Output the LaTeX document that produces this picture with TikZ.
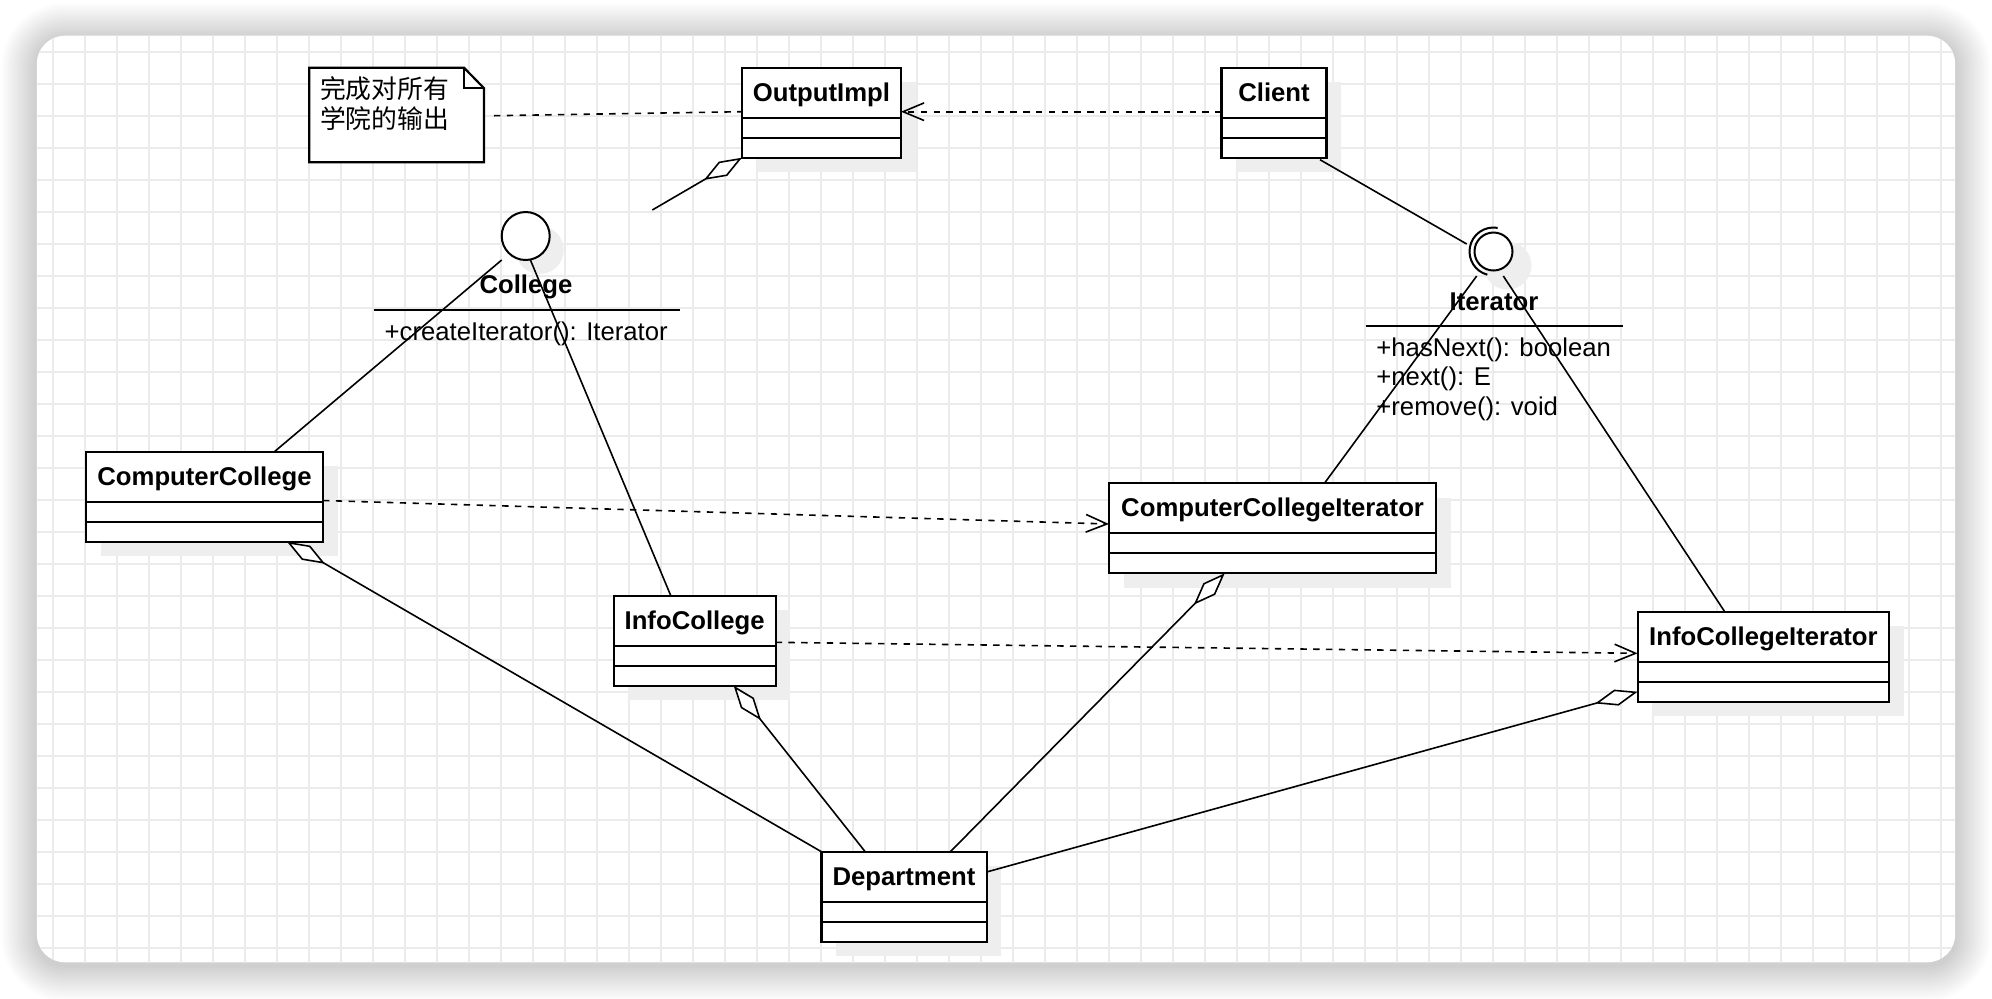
\documentclass[tikz,border=0pt]{standalone}
\usepackage{fontspec}
\setmainfont{Liberation Sans}
\newfontfamily\cjkfont{Noto Sans CJK SC}
\usetikzlibrary{arrows.meta,calc}
\definecolor{gridc}{HTML}{EBEBEB}
\definecolor{shadowc}{HTML}{EEEEEE}

\newcommand\umlclass[5]{%
  \fill[shadowc] (#2+14.5,#3+14.5) rectangle ++(#4,90);
  \node[classbox, minimum width=#4*0.5pt] (#1) at (#2,#3) {};
  \draw[divider] ($(#1.north west)+(0,50)$) -- ($(#1.north east)+(0,50)$);
  \draw[divider] ($(#1.north west)+(0,70)$) -- ($(#1.north east)+(0,70)$);
  \node[classtitle] (#1-t) at ($(#1.north)+(0,33.5)$) {#5};
}

\begin{document}
\begin{tikzpicture}[x=0.5pt,y=-0.5pt,
  every node/.style={font=\fontsize{12.85}{15}\selectfont},
  classbox/.style={draw=black, line width=1.1pt, fill=white, minimum height=45pt, inner sep=0pt, outer sep=0pt, anchor=north west},
  divider/.style={draw=black, line width=1.1pt},
  classtitle/.style={font=\fontsize{12.85}{15}\selectfont\bfseries, inner sep=0pt, anchor=base},
  optext/.style={inner sep=0pt, anchor=base west},
  cjktext/.style={inner sep=0pt, anchor=base west, font=\cjkfont\fontsize{12.9}{15}\selectfont},
  conn/.style={draw=black, line width=0.8pt},
  depend/.style={conn, dash pattern=on 3.2pt off 3.2pt, -{Straight Barb[length=10.5pt,width=8.8pt]}},
  notelink/.style={conn, dash pattern=on 3.2pt off 3.2pt},
  aggreg/.style={conn, -{Diamond[fill=white,length=22pt,width=8.3pt]}},
  ifacecircle/.style={circle, draw=black, line width=1pt, fill=white, inner sep=0pt, outer sep=0pt},
]
\useasboundingbox (0,0) rectangle (1992,998);
\fill[white] (0,0) rectangle (1992,998);

% card shadow
\foreach \i in {1,...,16}{
  \pgfmathsetmacro\rr{14+\i*1.1}
  \fill[black, opacity=0.011, rounded corners=\rr pt] (36.8-\i*2.2, 35.7-\i*2.2+3) rectangle (1955.2+\i*2.2, 962.3+\i*2.2+3);
}
% card
\fill[white, rounded corners=14pt] (36.8,35.7) rectangle (1955.2,962.3);
\begin{scope}
  \clip[rounded corners=14pt] (36.8,35.7) rectangle (1955.2,962.3);
  \foreach \x in {53,85,...,1941} \draw[gridc, line width=0.65pt] (\x,30) -- (\x,970);
  \foreach \y in {52,84,...,948} \draw[gridc, line width=0.65pt] (30,\y) -- (1960,\y);
\end{scope}

% note
\node[inner sep=0pt, outer sep=0pt, minimum width=87.35pt, minimum height=47.3pt, anchor=north west] (note) at (309.3,67.7) {};
\draw[line width=1.1pt, fill=white] (note.north west) -- ($(note.north east)+(-20,0)$) -- ($(note.north east)+(0,20.5)$) -- (note.south east) -- (note.south west) -- cycle;
\draw[line width=1.1pt] ($(note.north east)+(-20,0)$) -- ($(note.north east)+(-20,20.5)$) -- ($(note.north east)+(0,20.5)$);
\node[cjktext] (note-l1) at (319.6,98.5) {完成对所有};
\node[cjktext] (note-l2) at (319.6,128) {学院的输出};

% classes
\umlclass{oi}{742}{67.7}{159}{OutputImpl}
\umlclass{cl}{1221.5}{67.7}{105}{Client}
\umlclass{cc}{86}{451.7}{237}{ComputerCollege}
\umlclass{ic}{613.6}{595.7}{162}{InfoCollege}
\umlclass{dp}{821.4}{851.7}{165.2}{Department}
\umlclass{cci}{1109}{483.3}{327.2}{ComputerCollegeIterator}
\umlclass{ici}{1637.6}{611.7}{251.6}{InfoCollegeIterator}

% College interface
\fill[shadowc] (525.7+14,236+14) circle[radius=24];
\node[ifacecircle, minimum size=24pt] (col) at (525.7,236) {};
\node[classtitle] (col-t) at (526,293.5) {College};
\draw[line width=0.85pt] (373.5,309.7) -- (679.7,309.7);
\node[optext] (col-op) at (384.3,340) {+createIterator(): Iterator};

% Iterator interface
\fill[shadowc] (1493.5+14,251.5+14) circle[radius=24];
\node[ifacecircle, minimum size=19pt] (itf) at (1493.5,251.5) {};
\draw[line width=1pt] (itf.center) ++(-80:24) arc[start angle=-80, end angle=-255, radius=24];
\node[classtitle] (itf-t) at (1494,310) {Iterator};
\draw[line width=0.85pt] (1365.7,325.7) -- (1623,325.7);
\node[optext] (itf-op1) at (1376,356) {+hasNext(): boolean};
\node[optext] (itf-op2) at (1376,385.7) {+next(): E};
\node[optext] (itf-op3) at (1376,415.3) {+remove(): void};

% connectors
\draw[notelink] ($(note.north east)+(10,48)$) -- ($(oi.north west)+(0,44)$);
\draw[depend] ($(cl.north west)+(0,44)$) -- ($(oi.north east)+(0,44)$);
\coordinate (oifree) at (652.3,210);
\draw[aggreg] (oifree) -- (oi.south west);

\draw[conn] ($(col)+(-24,24)$) -- ($(cc.north west)+(188.4,0)$);
\draw[conn] ($(col)+(4.7,24)$) -- ($(ic.north west)+(57.2,0)$);

\draw[conn] ($(cl.south west)+(98.5,2)$) -- ($(itf)+(-26.8,-7.5)$);
\draw[conn] ($(itf)+(-16.8,24.5)$) -- ($(cci.north west)+(215.4,0)$);
\draw[conn] ($(itf)+(9.8,24.5)$) -- ($(ici.north west)+(87.1,0)$);

\draw[depend] ($(cc.north east)+(0,48.8)$) -- ($(cci.north west)+(0,40.7)$);
\draw[depend] ($(ic.north east)+(0,46.6)$) -- ($(ici.north west)+(0,41.6)$);

\draw[aggreg] (dp.north west) -- ($(cc.south west)+(201,0)$);
\draw[aggreg] ($(dp.north west)+(43.8,0)$) -- ($(ic.south west)+(120.1,0)$);
\draw[aggreg] ($(dp.north west)+(129,0)$) -- ($(cci.south west)+(115.7,0)$);
\draw[aggreg] ($(dp.north east)+(0,20.3)$) -- ($(ici.north west)+(0,80)$);
\end{tikzpicture}
\end{document}
